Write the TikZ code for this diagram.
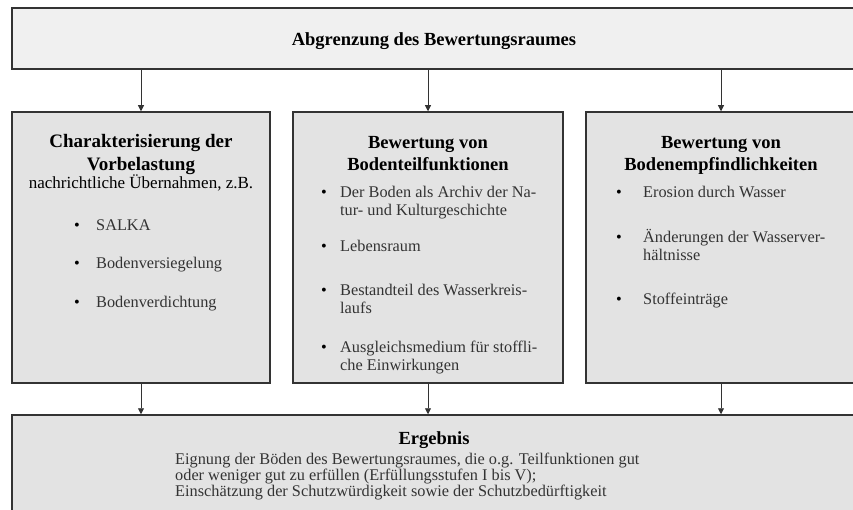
\documentclass[tikz,border=0pt]{standalone}
\usepackage{fontspec}
\setmainfont{Liberation Serif}
\usetikzlibrary{arrows.meta}

\tikzset{
  kasten/.style={draw=black!80,line width=1.5pt,fill=black!11,inner sep=0pt},
  kopf/.style={draw=black!80,line width=1.5pt,fill=black!6,inner sep=0pt},
  titel/.style={font=\bfseries\fontsize{18.5}{21.5}\selectfont,inner sep=0pt},
  eintrag/.style={font=\fontsize{16.3}{18}\selectfont,text=black!80,inner sep=0pt,anchor=base west},
  punkt/.style={font=\fontsize{16.3}{18}\selectfont,inner sep=0pt,anchor=base},
  pfeil/.style={draw=black!80,line width=0.8pt,-{Triangle[length=6pt,width=6pt]}},
}
\newcommand{\zeilen}[1]{\begin{tabular}[t]{@{}l@{}}#1\end{tabular}}
\newcommand{\mitte}[1]{\begin{tabular}[t]{@{}c@{}}#1\end{tabular}}

\begin{document}
\begin{tikzpicture}[x=1pt,y=-1pt]
\useasboundingbox (0,0) rectangle (853,510);
\clip (0,0) rectangle (853,510);
% Punkt mit Text: #1 = Name, #2 = x Punkt, #3 = x Text, #4 = Grundlinie, #5 = Text
\newcommand{\punktzeile}[5]{
  \node[punkt] (#1p) at (#2,#4) {\textbullet};
  \node[eintrag] (#1) at (#3,#4) {\zeilen{#5}};
}
% ---------- Kopf ----------
\node[kopf,minimum width=844pt,minimum height=61pt] (abgr) at (434,38.5) {};
\node[titel,anchor=base] (abgrT) at (434,46) {Abgrenzung des Bewertungsraumes};
% ---------- drei Kaesten ----------
\node[kasten,minimum width=258pt,minimum height=271pt] (vorb) at (141,247.5) {};
\node[kasten,minimum width=270pt,minimum height=271pt] (teil) at (428,247.5) {};
\node[kasten,minimum width=270pt,minimum height=271pt] (empf) at (721,247.5) {};
% Vorbelastung
\node[titel,anchor=base,font=\bfseries\fontsize{19}{23}\selectfont] (vorbT) at (141,148)
  {\mitte{Charakterisierung der\\Vorbelastung}};
\node[eintrag,anchor=base,font=\fontsize{17}{19}\selectfont,text=black] (vorbU) at (141,189)
  {nachrichtliche Übernahmen, z.B.};
\punktzeile{salka}{77}{96}{231}{SALKA}
\punktzeile{versieg}{77}{96}{269}{Bodenversiegelung}
\punktzeile{verdicht}{77}{96}{307}{Bodenverdichtung}
% Bodenteilfunktionen
\node[titel,anchor=base] (teilT) at (428,149) {\mitte{Bewertung von\\Bodenteilfunktionen}};
\punktzeile{archiv}{324}{340}{198}{Der Boden als Archiv der Na-\\tur- und Kulturgeschichte}
\punktzeile{leben}{324}{340}{252}{Lebensraum}
\punktzeile{kreis}{324}{340}{295}{Bestandteil des Wasserkreis-\\laufs}
\punktzeile{ausgl}{324}{340}{352}{Ausgleichsmedium für stoffli-\\che Einwirkungen}
% Bodenempfindlichkeiten
\node[titel,anchor=base] (empfT) at (721,149) {\mitte{Bewertung von\\Bodenempfindlichkeiten}};
\punktzeile{erosion}{619}{643}{198}{Erosion durch Wasser}
\punktzeile{wasser}{619}{643}{243}{Änderungen der Wasserver-\\hältnisse}
\punktzeile{stoff}{619}{643}{305}{Stoffeinträge}
% ---------- Ergebnis ----------
\node[kasten,minimum width=844pt,minimum height=115pt] (erg) at (434,472.5) {};
\node[titel,anchor=base] (ergT) at (434,444) {Ergebnis};
\node[eintrag,font=\fontsize{16.3}{16}\selectfont] (ergText) at (175,464)
  {\zeilen{Eignung der Böden des Bewertungsraumes, die o.g. Teilfunktionen gut\\
   oder weniger gut zu erfüllen (Erfüllungsstufen I bis V);\\
   Einschätzung der Schutzwürdigkeit sowie der Schutzbedürftigkeit}};
% ---------- Pfeile ----------
\foreach \k in {vorb,teil,empf}{
  \draw[pfeil] (abgr.south -| \k.north) -- (\k.north);
  \draw[pfeil] (\k.south) -- (\k.south |- erg.north);
}
\end{tikzpicture}
\end{document}
